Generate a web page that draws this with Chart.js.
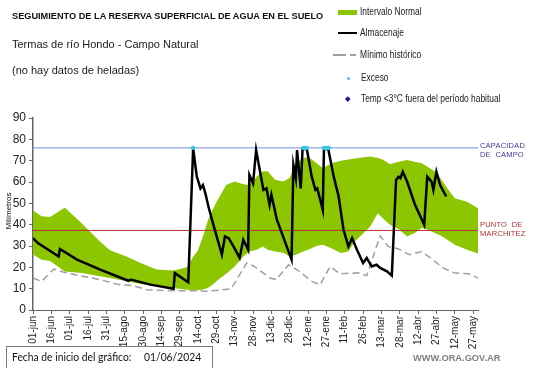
<!DOCTYPE html>
<html>
<head>
<meta charset="utf-8">
<script src="https://cdn.jsdelivr.net/npm/chart.js@4"></script>
<style>
  html, body { margin: 0; padding: 0; background: #fff; }
  #wrap { position: relative; width: 541px; height: 368px; overflow: hidden; font-family: 'Liberation Sans', Arial, sans-serif; color: #111; }
  #wrap canvas { position: absolute; left: 0; top: 0; }
  .t { position: absolute; white-space: nowrap; line-height: 1; }
  .lg { font-size: 10px; color: #222; transform: scaleX(0.84); transform-origin: 0 50%; }
  .side { font-size: 7.5px; letter-spacing: 0.2px; }
  .box { font-family: Lato, 'Open Sans', sans-serif; font-size: 12px; color: #111; transform: scaleX(0.86); transform-origin: 0 50%; }
</style>
</head>
<body>
<div id="wrap">
  <canvas id="c" width="541" height="368"></canvas>

  <div class="t" style="left:12px;top:12px;font-weight:bold;font-size:9.2px;">SEGUIMIENTO DE LA RESERVA SUPERFICIAL DE AGUA EN EL SUELO</div>
  <div class="t" style="left:12px;top:39px;font-size:11px;color:#222;">Termas de río Hondo - Campo Natural</div>
  <div class="t" style="left:12px;top:65px;font-size:11px;color:#222;">(no hay datos de heladas)</div>

  <!-- legend -->
  <div class="t" style="left:338px;top:10px;width:19px;height:5px;background:#8cc600;"></div>
  <div class="t lg" style="left:360px;top:7px;">Intervalo Normal</div>
  <div class="t" style="left:338px;top:32px;width:19px;height:2px;background:#000;"></div>
  <div class="t lg" style="left:360px;top:28px;">Almacenaje</div>
  <div class="t" style="left:333px;top:54px;width:13px;height:1.5px;background:#a0a0a0;"></div>
  <div class="t" style="left:350px;top:54px;width:6px;height:1.5px;background:#a0a0a0;"></div>
  <div class="t lg" style="left:360px;top:50px;">Mínimo histórico</div>
  <div class="t" style="left:346.5px;top:76.5px;width:3px;height:3px;border-radius:50%;background:#3cc8e0;"></div>
  <div class="t lg" style="left:361px;top:73px;">Exceso</div>
  <div class="t" style="left:346px;top:97px;width:3.5px;height:3.5px;background:#1a1a9a;transform:rotate(45deg);"></div>
  <div class="t lg" style="left:361px;top:94px;">Temp &lt;3°C fuera del período habitual</div>

  <!-- reference labels -->
  <div class="t side" style="left:480px;top:141.5px;color:#3a3aa0;">CAPACIDAD</div>
  <div class="t side" style="left:480px;top:150.5px;color:#3a3aa0;">DE&nbsp; CAMPO</div>
  <div class="t side" style="left:480px;top:221px;color:#b03030;">PUNTO&nbsp; DE</div>
  <div class="t side" style="left:480px;top:230px;color:#b03030;">MARCHITEZ</div>

  <div class="t" style="left:-21px;top:207px;width:60px;text-align:center;font-size:8px;transform:rotate(-90deg);transform-origin:50% 50%;">Milímetros</div>

  <div class="t" style="left:6px;top:346px;width:205px;height:21px;border:1px solid #8a7a7a;"></div>
  <div class="t box" style="left:12px;top:351px;">Fecha de inicio del gráfico:</div>
  <div class="t box" style="left:144px;top:351px;">01/06/2024</div>
  <div class="t" style="left:413px;top:354px;font-size:9.3px;font-weight:bold;color:#808080;">WWW.ORA.GOV.AR</div>
</div>

<script>
// x: days since 01/06/2024, ticks every 15 days
const xTickLabels = ['01-jun', '16-jun', '01-jul', '16-jul', '31-jul', '15-ago', '30-ago', '14-sep', '29-sep',
  '14-oct', '29-oct', '13-nov', '28-nov', '13-dic', '28-dic', '12-ene', '27-ene', '11-feb', '26-feb',
  '13-mar', '28-mar', '12-abr', '27-abr', '12-may', '27-may'];

// normal interval (band)
const bandDays = [0, 7, 14, 26, 40, 55, 63, 77, 88, 101, 115, 126, 131, 135, 139, 143, 147, 151, 158, 165,
  172, 177, 183, 188, 192, 198, 205, 210, 215, 221, 225, 232, 237, 244, 252, 258, 263, 269, 276, 282,
  286, 292, 299, 306, 312, 318, 323, 329, 333, 338, 345, 355, 364];
const bandUpper = [46.6, 44, 43.6, 48, 40.5, 32, 28, 25, 22, 19, 18.5, 20, 25, 28, 34.5, 42, 47, 51.6, 58.6, 60.2,
  59, 58.6, 62.5, 65, 65, 61, 60.2, 62, 68.8, 71, 71.9, 68.8, 66.4, 68.8, 70, 70.5, 71, 71.5, 71.9, 71.3,
  70.5, 68.3, 69.5, 70.3, 69.5, 68.8, 67, 64.8, 62, 57.8, 52.4, 50.8, 47.7];
const bandLower = [26, 23.5, 23, 18, 17.3, 15.8, 15, 13.5, 12.2, 11.2, 10.3, 9.5, 9.3, 9.2, 9.6, 10.3, 11.9, 14, 17, 20.4,
  25.1, 27.4, 28.2, 29.8, 28.2, 27.4, 26.7, 25.1, 25.9, 27.4, 28.2, 30, 30.6, 29, 26.7, 27.4, 32, 35.3, 39.3, 45.4,
  43, 40, 38, 34.5, 36, 38.6, 37.6, 36, 35, 33.3, 30.6, 28.2, 26.5];

// storage (almacenaje)
const almDays = [0, 4, 21, 22, 36, 55, 78, 80, 96, 115, 116, 127, 131, 134, 137, 139, 141, 143.5, 147.5, 154.5,
  157, 160, 164, 169, 172, 176, 177, 180, 182.5, 186, 188.5, 191, 193.5, 195, 199.5, 211.5, 213, 215, 216, 219,
  220.5, 224, 228, 231, 232.5, 235, 237, 238, 241.5, 246, 250, 254, 258, 261, 265, 270, 273, 277, 281, 284,
  289.5, 293.5, 297, 299, 300.5, 302.5, 306, 312.5, 320, 322.5, 326, 327.5, 330, 333, 338];
const almVals = [33.7, 31.4, 25.1, 28.6, 23.6, 18.9, 13.7, 14.3, 11.9, 10, 17.3, 13, 75.8, 62.5, 57, 58.6, 54.7, 48.5, 40, 26,
  34.5, 33.7, 29.8, 24.4, 32.9, 28.2, 63.3, 59.4, 75, 64, 56.3, 57, 49.3, 54, 42.3, 23.6, 68, 61.8, 75, 57,
  75.5, 75.5, 62.5, 56.3, 57, 51.6, 47, 75.5, 75.5, 62.5, 53.2, 37.6, 29.8, 33.7, 28.2, 22, 24.4, 20.4, 21.2, 19.7,
  18.1, 16.1, 61, 62.5, 61.8, 64.8, 60.2, 49.3, 40, 62.5, 60.2, 56.3, 64.8, 58.6, 53.2];

// historical minimum
const minDays = [0, 7, 17, 27.5, 55, 70, 82, 93, 115, 132, 143, 162, 175, 181, 194, 199, 209, 217, 228, 235,
  243, 251, 266, 273, 280, 284, 290.5, 299, 308, 318, 325, 335.5, 345, 356, 364];
const minVals = [15, 13.4, 19.2, 17.3, 14.2, 11.9, 11.4, 9.5, 9, 9.1, 8.8, 9.9, 22.2, 20.4, 15, 14.2, 21.2, 18.5, 13.4, 11.9,
  20.4, 17, 17.4, 16.1, 28.2, 34.8, 29.8, 28.6, 25.9, 27.4, 24.4, 19.7, 17.3, 17, 15];

// excess days (at field capacity)
const excesoDays = [131, 221, 222, 223, 224, 238, 239, 240, 241, 242];

const CAPACIDAD = 76;
const MARCHITEZ = 37.3;
const X_MAX = 364;

const pts = (xs, ys) => xs.map((x, i) => ({ x, y: ys[i] }));

new Chart(document.getElementById('c').getContext('2d'), {
  type: 'line',
  data: {
    datasets: [
      { label: 'Exceso', data: excesoDays.map(d => ({ x: d, y: CAPACIDAD })), showLine: false,
        pointRadius: 2.2, pointBackgroundColor: '#3cc8e0', pointBorderWidth: 0, order: 0 },
      { label: 'Almacenaje', data: pts(almDays, almVals), borderColor: '#000', borderWidth: 2.5,
        pointRadius: 0, tension: 0, order: 1 },
      { label: 'cap', data: [{ x: 0, y: CAPACIDAD }, { x: X_MAX, y: CAPACIDAD }], borderColor: '#7090d8',
        borderWidth: 1, pointRadius: 0, order: 2 },
      { label: 'marchitez', data: [{ x: 0, y: MARCHITEZ }, { x: X_MAX, y: MARCHITEZ }], borderColor: '#b83030',
        borderWidth: 1, pointRadius: 0, order: 3 },
      { label: 'Mínimo histórico', data: pts(minDays, minVals), borderColor: '#a0a0a0', borderWidth: 1.5,
        borderDash: [7, 4], pointRadius: 0, tension: 0, order: 4 },
      { label: 'Intervalo Normal', data: pts(bandDays, bandUpper), borderWidth: 0, borderColor: 'rgba(0,0,0,0)',
        backgroundColor: '#8cc600', fill: '+1', pointRadius: 0, tension: 0, order: 5 },
      { label: 'lower', data: pts(bandDays, bandLower), borderWidth: 0, borderColor: 'rgba(0,0,0,0)',
        pointRadius: 0, fill: false, tension: 0, order: 6 },
    ],
  },
  options: {
    responsive: false,
    animation: false,
    devicePixelRatio: 1,
    layout: { padding: { top: 118, right: 63, left: 0, bottom: 0 } },
    plugins: { legend: { display: false }, tooltip: { enabled: false } },
    scales: {
      x: {
        type: 'linear', min: 0, max: X_MAX,
        afterFit: s => { s.height = 58; },
        afterBuildTicks: s => { s.ticks = xTickLabels.map((_, i) => ({ value: i * 15 })); },
        ticks: { autoSkip: false, maxRotation: 90, minRotation: 90, padding: 2, color: '#222',
          font: { family: "'Liberation Sans', Arial", size: 10 },
          callback: v => xTickLabels[Math.round(v / 15)] },
        grid: { drawOnChartArea: false, drawTicks: true, tickLength: 4, color: '#666' },
        border: { display: true, color: '#666', width: 1 },
      },
      y: {
        min: 0, max: 90,
        afterFit: s => { s.width = 33; },
        ticks: { stepSize: 10, padding: 3, color: '#222', font: { family: "'Liberation Sans', Arial", size: 12 } },
        grid: { drawOnChartArea: false, drawTicks: true, tickLength: 4, color: '#666' },
        border: { display: true, color: '#666', width: 1.5 },
      },
    },
  },
});
</script>
</body>
</html>
